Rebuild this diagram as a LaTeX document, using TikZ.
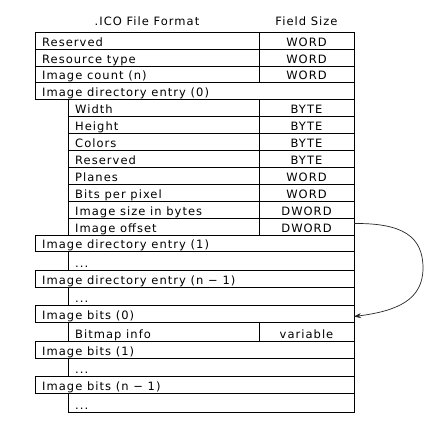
\documentclass[tikz,border=0pt]{standalone}
\usepackage{fontspec}
\newfontfamily\icofont{DejaVu Sans}[LetterSpace=9]
\usetikzlibrary{arrows.meta}
\tikzset{
  box/.style={draw, line width=0.8pt, inner sep=0pt, outer sep=0pt, anchor=north west},
  wide/.style={box, minimum width=319pt},
  namec/.style={box, minimum width=224pt},
  inname/.style={box, minimum width=191pt},
  sizec/.style={box, minimum width=95pt},
  inwide/.style={box, minimum width=286pt},
  txt/.style={inner sep=0pt, font=\icofont\fontsize{11.5}{13}\selectfont},
  lbl/.style={txt, anchor=base west},
  szl/.style={txt, anchor=base},
  hdr/.style={txt, anchor=base},
  conn/.style={draw=black!85, line width=0.7pt, -{Stealth[length=7pt,width=5pt]}}
}
\newcommand\icorow[6]{%
  \node[#2, minimum height=#5pt] (#1) at (#3,#4) {};
  \node[lbl] (#1t) at ([xshift=7pt,yshift=3pt]#1.south west) {#6};
}
\newcommand\icosize[4]{%
  \node[sizec, minimum height=#3pt] (#1) at (259,#2) {};
  \node[szl] (#1t) at ([yshift=3pt]#1.south) {#4};
}
\begin{document}
\begin{tikzpicture}[x=1pt,y=-1pt]
\useasboundingbox[fill=white] (0,0) rectangle (444,437);
% headers
\node[hdr] (h1) at (147,25.5) {.ICO File Format};
\node[hdr] (h2) at (306.5,25.5) {Field Size};
% header rows
\icorow{r1}{namec}{35}{32}{17}{Reserved}
\icosize{s1}{32}{17}{WORD}
\icorow{r2}{namec}{35}{49}{17}{Resource type}
\icosize{s2}{49}{17}{WORD}
\icorow{r3}{namec}{35}{66}{16}{Image count (n)}
\icosize{s3}{66}{16}{WORD}
\icorow{r4}{wide}{35}{82}{17}{Image directory entry (0)}
% directory entry fields
\icorow{r5}{inname}{68}{99}{17}{Width}
\icosize{s5}{99}{17}{BYTE}
\icorow{r6}{inname}{68}{116}{17}{Height}
\icosize{s6}{116}{17}{BYTE}
\icorow{r7}{inname}{68}{133}{17}{Colors}
\icosize{s7}{133}{17}{BYTE}
\icorow{r8}{inname}{68}{150}{17}{Reserved}
\icosize{s8}{150}{17}{BYTE}
\icorow{r9}{inname}{68}{167}{17}{Planes}
\icosize{s9}{167}{17}{WORD}
\icorow{r10}{inname}{68}{184}{17}{Bits per pixel}
\icosize{s10}{184}{17}{WORD}
\icorow{r11}{inname}{68}{201}{17}{Image size in bytes}
\icosize{s11}{201}{17}{DWORD}
\icorow{r12}{inname}{68}{218}{17}{Image offset}
\icosize{offsz}{218}{17}{DWORD}
% further entries
\icorow{r13}{wide}{35}{235}{16}{Image directory entry (1)}
\icorow{r14}{inwide}{68}{251}{19}{...}
\icorow{r15}{wide}{35}{270}{17}{Image directory entry (n − 1)}
\icorow{r16}{inwide}{68}{287}{18}{...}
% image bits
\icorow{ib0}{wide}{35}{305}{17}{Image bits (0)}
\icorow{r18}{inname}{68}{322}{19}{Bitmap info}
\icosize{s18}{322}{19}{variable}
\icorow{r19}{wide}{35}{341}{17}{Image bits (1)}
\icorow{r20}{inwide}{68}{358}{18}{...}
\icorow{r21}{wide}{35}{376}{17}{Image bits (n − 1)}
\icorow{r22}{inwide}{68}{393}{19}{...}
% offset arrow
\coordinate (bend) at (423,268);
\draw[conn] ([yshift=3pt]offsz.east) .. controls (402,223) and (423,236) .. (bend)
  .. controls (423,300) and (397,311) .. ([yshift=-3pt]ib0.east);
\end{tikzpicture}
\end{document}
